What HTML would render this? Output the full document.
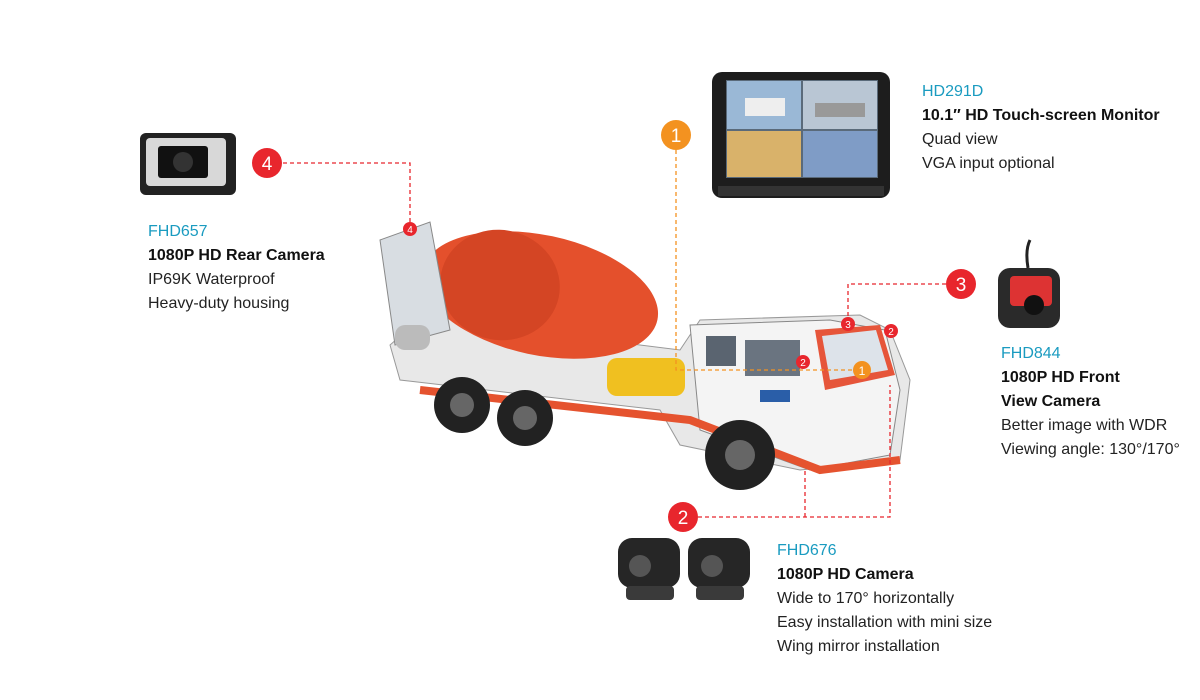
<!DOCTYPE html>
<html><head><meta charset="utf-8"><style>
body{margin:0;background:#fff;width:1200px;height:700px;overflow:hidden;position:relative;font-family:"Liberation Sans",Arial,sans-serif;}
.t{position:absolute;font-size:16px;color:#222;line-height:24px;white-space:nowrap}
.t .m{color:#1a9bc0}
.t b{font-weight:bold;color:#111}
svg{position:absolute;left:0;top:0}
</style></head><body>
<svg width="1200" height="700" viewBox="0 0 1200 700">
<rect x="712" y="72" width="178" height="126" rx="10" fill="#1d1d1d"/>
<rect x="718" y="186" width="166" height="10" fill="#333"/>
<rect x="726" y="80" width="152" height="98" fill="#5a6a7a"/>
<rect x="727" y="81" width="74" height="48" fill="#9ab8d6"/><rect x="803" y="81" width="74" height="48" fill="#b9c6d4"/>
<rect x="727" y="131" width="74" height="46" fill="#d9b26a"/><rect x="803" y="131" width="74" height="46" fill="#7f9cc6"/>
<rect x="745" y="98" width="40" height="18" fill="#eee"/><rect x="815" y="103" width="50" height="14" fill="#999"/>
<rect x="140" y="133" width="96" height="62" rx="6" fill="#222"/>
<rect x="146" y="138" width="80" height="48" rx="4" fill="#d8d8d8"/>
<rect x="158" y="146" width="50" height="32" rx="3" fill="#111"/>
<circle cx="183" cy="162" r="10" fill="#333"/>
<rect x="998" y="268" width="62" height="60" rx="12" fill="#2a2a2a"/>
<rect x="1010" y="276" width="42" height="30" rx="4" fill="#d33"/>
<circle cx="1034" cy="305" r="10" fill="#111"/>
<path d="M1028 268 Q1025 250 1030 240" stroke="#222" stroke-width="3" fill="none"/>
<g fill="#262626"><rect x="618" y="538" width="62" height="50" rx="14"/><rect x="688" y="538" width="62" height="50" rx="14"/></g>
<circle cx="640" cy="566" r="11" fill="#555"/><circle cx="712" cy="566" r="11" fill="#555"/>
<rect x="626" y="586" width="48" height="14" rx="4" fill="#3a3a3a"/><rect x="696" y="586" width="48" height="14" rx="4" fill="#3a3a3a"/>
<polygon points="390,345 400,380 660,410 680,445 800,470 900,460 910,380 890,330 860,315 700,320 680,350 600,340 430,310" fill="#e8e8e8" stroke="#999"/>
<ellipse cx="540" cy="295" rx="120" ry="60" fill="#e4502c" transform="rotate(12 540 295)"/>
<ellipse cx="500" cy="285" rx="60" ry="55" fill="#d44524" transform="rotate(12 500 285)"/>
<polygon points="380,240 430,222 450,330 395,345" fill="#d8dde2" stroke="#888"/>
<rect x="395" y="325" width="35" height="25" rx="10" fill="#bbb"/>
<polygon points="690,325 830,320 885,330 900,390 890,455 810,470 700,430" fill="#f4f4f4" stroke="#888"/>
<polygon points="815,330 880,325 895,375 825,390" fill="#e6553a"/>
<polygon points="822,336 876,330 888,370 830,380" fill="#dde3ea"/>
<rect x="706" y="336" width="30" height="30" fill="#5a6470"/>
<rect x="745" y="340" width="55" height="36" fill="#6a7480"/>
<rect x="760" y="390" width="30" height="12" fill="#2a5ea8"/>
<rect x="607" y="358" width="78" height="38" rx="10" fill="#f0c020"/>
<path d="M420 390 L690 420 L820 470 L900 460" stroke="#e5532f" stroke-width="8" fill="none"/>
<circle cx="462" cy="405" r="28" fill="#222"/><circle cx="462" cy="405" r="12" fill="#666"/>
<circle cx="525" cy="418" r="28" fill="#222"/><circle cx="525" cy="418" r="12" fill="#666"/>
<circle cx="740" cy="455" r="35" fill="#222"/><circle cx="740" cy="455" r="15" fill="#666"/>
<g fill="none" stroke-width="1.3" stroke-dasharray="4,3">
<path d="M283 163 H410 V228" stroke="#e8262d"/>
<path d="M676 150 V370 H860" stroke="#f39220"/>
<path d="M946 284 H848 V322" stroke="#e8262d"/>
<path d="M698 517 H890 V385 M805 517 V470" stroke="#e8262d"/>
</g>
<g font-family="Liberation Sans,Arial,sans-serif" text-anchor="middle" fill="#fff">
<circle cx="676" cy="135" r="15" fill="#f39220"/><text x="676" y="142" font-size="19">1</text>
<circle cx="267" cy="163" r="15" fill="#e8262d"/><text x="267" y="170" font-size="19">4</text>
<circle cx="961" cy="284" r="15" fill="#e8262d"/><text x="961" y="291" font-size="19">3</text>
<circle cx="683" cy="517" r="15" fill="#e8262d"/><text x="683" y="524" font-size="19">2</text>
<circle cx="410" cy="229" r="7" fill="#e8262d"/><text x="410" y="233" font-size="10">4</text>
<circle cx="848" cy="324" r="7" fill="#e8262d"/><text x="848" y="328" font-size="10">3</text>
<circle cx="891" cy="331" r="7" fill="#e8262d"/><text x="891" y="335" font-size="10">2</text>
<circle cx="803" cy="362" r="7" fill="#e8262d"/><text x="803" y="366" font-size="10">2</text>
<circle cx="862" cy="370" r="9" fill="#f39220"/><text x="862" y="375" font-size="12">1</text>
</g>
</svg>
<div class="t" style="left:922px;top:80px"><span class="m">HD291D</span><br><b>10.1″ HD Touch-screen Monitor</b><br>Quad view<br>VGA input optional</div>
<div class="t" style="left:148px;top:220px"><span class="m">FHD657</span><br><b>1080P HD Rear Camera</b><br>IP69K Waterproof<br>Heavy-duty housing</div>
<div class="t" style="left:1001px;top:342px"><span class="m">FHD844</span><br><b>1080P HD Front<br>View Camera</b><br>Better image with WDR<br>Viewing angle: 130°/170°</div>
<div class="t" style="left:777px;top:539px"><span class="m">FHD676</span><br><b>1080P HD Camera</b><br>Wide to 170° horizontally<br>Easy installation with mini size<br>Wing mirror installation</div>
</body></html>
